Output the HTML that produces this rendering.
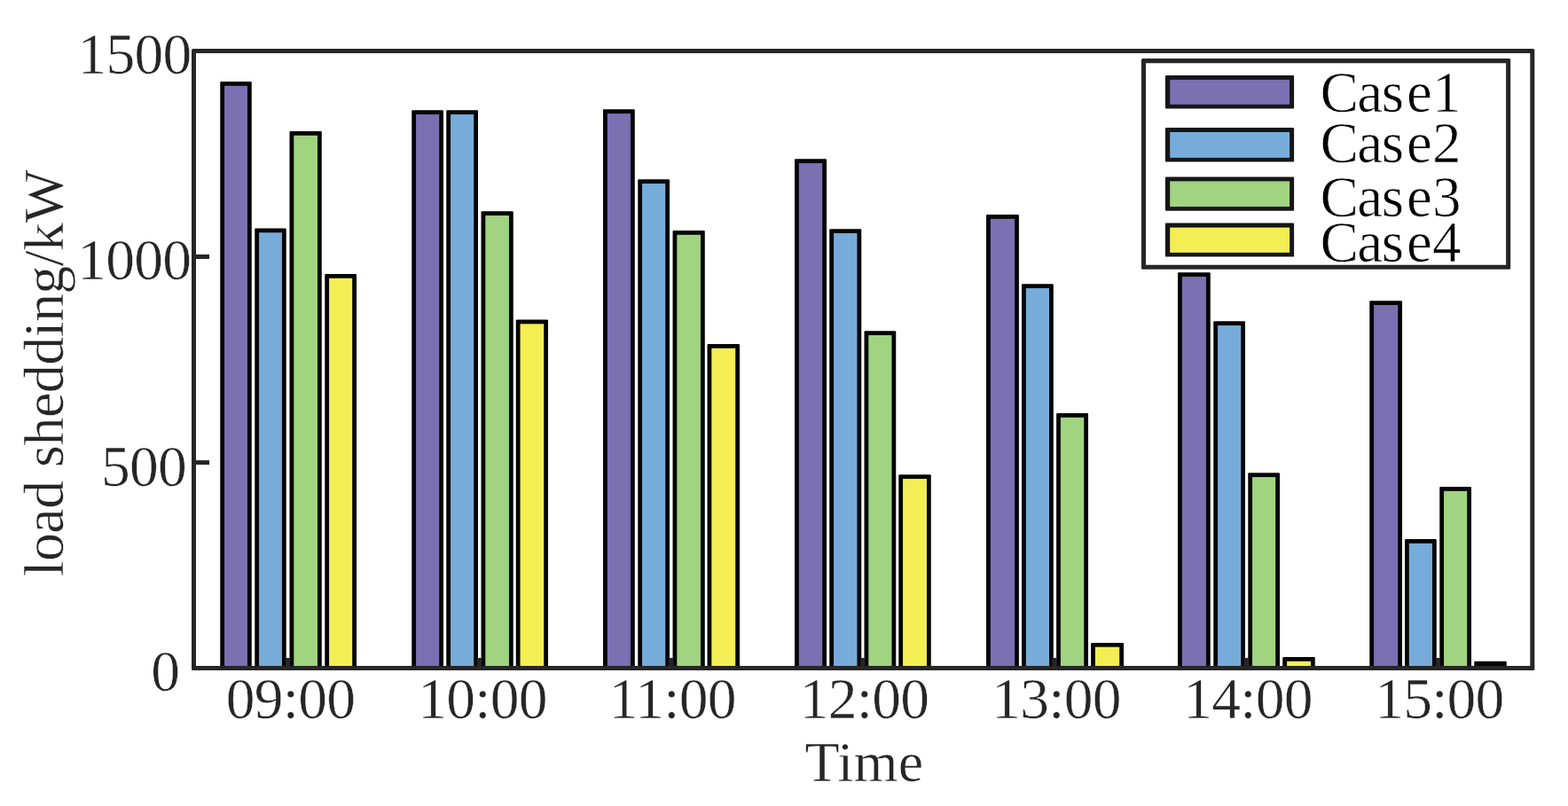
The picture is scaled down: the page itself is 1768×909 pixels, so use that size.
<!DOCTYPE html>
<html lang="en"><head><meta charset="utf-8"><title>Load shedding by case</title>
<style>
html,body{margin:0;padding:0;background:#fff;}
body{width:1768px;height:909px;overflow:hidden;}
svg{display:block;}
text{font-family:"Liberation Serif",serif;font-size:65.5px;letter-spacing:-0.75px;fill:#262626;stroke:#fff;stroke-width:0.5px;}
.lg{fill:#000;font-size:65px;letter-spacing:0;stroke-width:0.7px;}
</style></head><body>
<svg width="1768" height="909" viewBox="0 0 1768 909">
<rect x="0" y="0" width="1768" height="909" fill="#ffffff"/>
<g>
<rect x="248.25" y="92.00" width="35.50" height="663.40" rx="1.1" fill="#050505"/>
<rect x="253.05" y="96.80" width="25.90" height="656.60" fill="#7a70b2"/>
<rect x="287.25" y="257.50" width="35.50" height="497.90" rx="1.1" fill="#050505"/>
<rect x="292.05" y="262.30" width="25.90" height="491.10" fill="#77acda"/>
<rect x="326.50" y="148.00" width="36.25" height="607.40" rx="1.1" fill="#050505"/>
<rect x="331.30" y="152.80" width="26.65" height="600.60" fill="#a0d481"/>
<rect x="366.25" y="309.00" width="35.75" height="446.40" rx="1.1" fill="#050505"/>
<rect x="371.05" y="313.80" width="26.15" height="439.60" fill="#f3ee54"/>
<rect x="464.25" y="124.25" width="35.75" height="631.15" rx="1.1" fill="#050505"/>
<rect x="469.05" y="129.05" width="26.15" height="624.35" fill="#7a70b2"/>
<rect x="503.25" y="124.25" width="35.75" height="631.15" rx="1.1" fill="#050505"/>
<rect x="508.05" y="129.05" width="26.15" height="624.35" fill="#77acda"/>
<rect x="542.50" y="238.25" width="36.25" height="517.15" rx="1.1" fill="#050505"/>
<rect x="547.30" y="243.05" width="26.65" height="510.35" fill="#a0d481"/>
<rect x="581.75" y="360.50" width="36.25" height="394.90" rx="1.1" fill="#050505"/>
<rect x="586.55" y="365.30" width="26.65" height="388.10" fill="#f3ee54"/>
<rect x="680.00" y="123.25" width="35.75" height="632.15" rx="1.1" fill="#050505"/>
<rect x="684.80" y="128.05" width="26.15" height="625.35" fill="#7a70b2"/>
<rect x="719.25" y="202.25" width="35.75" height="553.15" rx="1.1" fill="#050505"/>
<rect x="724.05" y="207.05" width="26.15" height="546.35" fill="#77acda"/>
<rect x="758.50" y="260.00" width="36.25" height="495.40" rx="1.1" fill="#050505"/>
<rect x="763.30" y="264.80" width="26.65" height="488.60" fill="#a0d481"/>
<rect x="797.50" y="388.00" width="36.50" height="367.40" rx="1.1" fill="#050505"/>
<rect x="802.30" y="392.80" width="26.90" height="360.60" fill="#f3ee54"/>
<rect x="896.00" y="179.25" width="36.00" height="576.15" rx="1.1" fill="#050505"/>
<rect x="900.80" y="184.05" width="26.40" height="569.35" fill="#7a70b2"/>
<rect x="935.25" y="258.25" width="36.00" height="497.15" rx="1.1" fill="#050505"/>
<rect x="940.05" y="263.05" width="26.40" height="490.35" fill="#77acda"/>
<rect x="974.50" y="373.25" width="35.75" height="382.15" rx="1.1" fill="#050505"/>
<rect x="979.30" y="378.05" width="26.15" height="375.35" fill="#a0d481"/>
<rect x="1013.25" y="535.25" width="36.50" height="220.15" rx="1.1" fill="#050505"/>
<rect x="1018.05" y="540.05" width="26.90" height="213.35" fill="#f3ee54"/>
<rect x="1112.00" y="242.00" width="36.90" height="513.40" rx="1.1" fill="#050505"/>
<rect x="1116.80" y="246.80" width="27.30" height="506.60" fill="#7a70b2"/>
<rect x="1152.00" y="320.25" width="35.80" height="435.15" rx="1.1" fill="#050505"/>
<rect x="1156.80" y="325.05" width="26.20" height="428.35" fill="#77acda"/>
<rect x="1191.10" y="466.00" width="35.90" height="289.40" rx="1.1" fill="#050505"/>
<rect x="1195.90" y="470.80" width="26.30" height="282.60" fill="#a0d481"/>
<rect x="1230.10" y="724.90" width="36.90" height="30.50" rx="1.1" fill="#050505"/>
<rect x="1234.90" y="729.70" width="27.30" height="23.70" fill="#f3ee54"/>
<rect x="1328.00" y="307.25" width="36.75" height="448.15" rx="1.1" fill="#050505"/>
<rect x="1332.80" y="312.05" width="27.15" height="441.35" fill="#7a70b2"/>
<rect x="1368.25" y="362.25" width="35.75" height="393.15" rx="1.1" fill="#050505"/>
<rect x="1373.05" y="367.05" width="26.15" height="386.35" fill="#77acda"/>
<rect x="1407.25" y="533.25" width="35.75" height="222.15" rx="1.1" fill="#050505"/>
<rect x="1412.05" y="538.05" width="26.15" height="215.35" fill="#a0d481"/>
<rect x="1446.25" y="741.00" width="36.50" height="14.40" rx="1.1" fill="#050505"/>
<rect x="1451.05" y="745.80" width="26.90" height="7.60" fill="#f3ee54"/>
<rect x="1544.25" y="339.25" width="36.75" height="416.15" rx="1.1" fill="#050505"/>
<rect x="1549.05" y="344.05" width="27.15" height="409.35" fill="#7a70b2"/>
<rect x="1584.00" y="608.00" width="35.75" height="147.40" rx="1.1" fill="#050505"/>
<rect x="1588.80" y="612.80" width="26.15" height="140.60" fill="#77acda"/>
<rect x="1623.25" y="549.00" width="35.75" height="206.40" rx="1.1" fill="#050505"/>
<rect x="1628.05" y="553.80" width="26.15" height="199.60" fill="#a0d481"/>
<rect x="1662.25" y="745.75" width="36.50" height="9.65" rx="1.1" fill="#050505"/>
</g>
<g>
<rect x="321.90" y="742" width="5" height="10" fill="#262626"/>
<rect x="538.07" y="742" width="5" height="10" fill="#262626"/>
<rect x="754.24" y="742" width="5" height="10" fill="#262626"/>
<rect x="970.41" y="742" width="5" height="10" fill="#262626"/>
<rect x="1186.58" y="742" width="5" height="10" fill="#262626"/>
<rect x="1402.75" y="742" width="5" height="10" fill="#262626"/>
<rect x="1618.92" y="742" width="5" height="10" fill="#262626"/>
<rect x="220" y="287.00" width="16" height="5" fill="#262626"/>
<rect x="220" y="519.10" width="16" height="5" fill="#262626"/>
</g>
<path fill-rule="evenodd" fill="#262626" d="M217.50 55.00H1728.80Q1730.30 55.00 1730.30 56.50V754.40Q1730.30 755.90 1728.80 755.90H217.50Q216.00 755.90 216.00 754.40V56.50Q216.00 55.00 217.50 55.00ZM221.00 60.00V750.90H1725.30V60.00Z"/>
<text x="215.4" y="83.1" text-anchor="end">1500</text>
<text x="215.3" y="315.2" text-anchor="end">1000</text>
<text x="209.9" y="547.9" text-anchor="end">500</text>
<text x="202.3" y="779.0" text-anchor="end">0</text>
<text x="327.6" y="810" text-anchor="middle">09:00</text>
<text x="544.1" y="810" text-anchor="middle">10:00</text>
<text x="758.2" y="810" text-anchor="middle">11:00</text>
<text x="974.5" y="810" text-anchor="middle">12:00</text>
<text x="1191.0" y="810" text-anchor="middle">13:00</text>
<text x="1407.0" y="810" text-anchor="middle">14:00</text>
<text x="1622.9" y="810" text-anchor="middle">15:00</text>
<text x="974.5" y="880.6" text-anchor="middle" style="font-size:64px;letter-spacing:0.35px">Time</text>
<text transform="translate(70.8,421.0) rotate(-90)" text-anchor="middle" style="font-size:64px;letter-spacing:-0.55px">load shedding/kW</text>
<rect x="1288" y="67" width="414" height="235.5" fill="#ffffff"/>
<path fill-rule="evenodd" fill="#262626" d="M1288.40 66.10H1701.70Q1703.20 66.10 1703.20 67.60V302.30Q1703.20 303.80 1701.70 303.80H1288.40Q1286.90 303.80 1286.90 302.30V67.60Q1286.90 66.10 1288.40 66.10ZM1292.00 71.20V298.70H1698.10V71.20Z"/>
<rect x="1313.90" y="84.90" width="145.20" height="37.60" rx="1.2" fill="#161616"/>
<rect x="1319.20" y="89.90" width="134.90" height="27.90" fill="#7a70b2"/>
<text class="lg" x="1488.5" y="126.0" dx="0 -1.5 -1.5 3 0">Case1</text>
<rect x="1313.90" y="144.00" width="145.20" height="38.60" rx="1.2" fill="#161616"/>
<rect x="1319.20" y="149.00" width="134.90" height="28.90" fill="#77acda"/>
<text class="lg" x="1488.5" y="182.8" dx="0 -1.5 -1.5 3 0">Case2</text>
<rect x="1313.90" y="199.40" width="145.20" height="38.40" rx="1.2" fill="#161616"/>
<rect x="1319.20" y="204.40" width="134.90" height="28.70" fill="#a0d481"/>
<text class="lg" x="1488.5" y="243.7" dx="0 -1.5 -1.5 3 0">Case3</text>
<rect x="1313.90" y="251.60" width="145.20" height="38.00" rx="1.2" fill="#161616"/>
<rect x="1319.20" y="256.60" width="134.90" height="28.30" fill="#f3ee54"/>
<text class="lg" x="1488.5" y="295.3" dx="0 -1.5 -1.5 3 0">Case4</text>
</svg>
</body></html>
